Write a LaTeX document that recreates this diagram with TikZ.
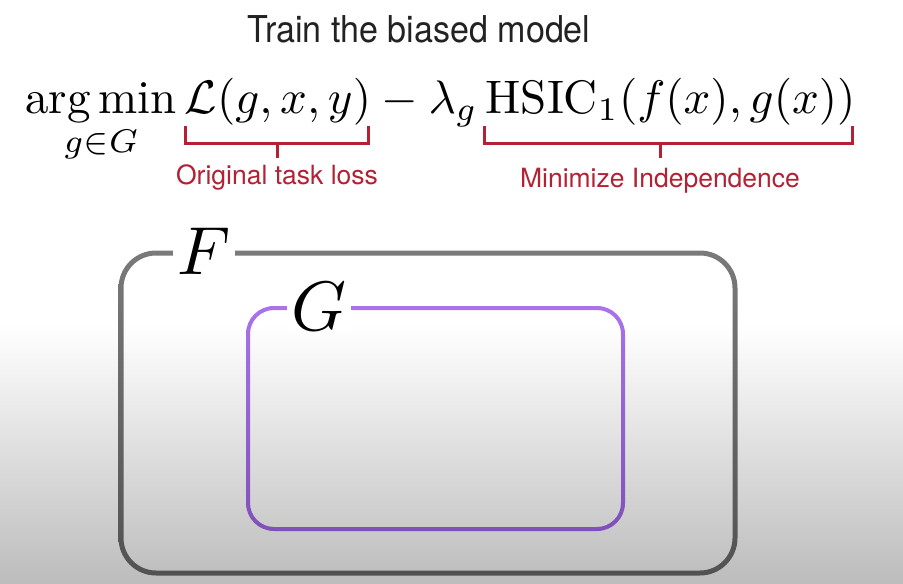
\documentclass[tikz,border=0pt]{standalone}
\usepackage{amsmath}
\usepackage{graphicx}
\usepackage{fontspec}
\newfontfamily\helv{TeX Gyre Heros}
\definecolor{bracketred}{RGB}{178,34,52}
\definecolor{titlegray}{RGB}{34,34,34}
\definecolor{ftop}{RGB}{122,122,122}
\definecolor{fbot}{RGB}{82,82,82}
\definecolor{gtop}{RGB}{170,115,235}
\definecolor{gbot}{RGB}{128,80,185}
\definecolor{bgbot}{RGB}{188,188,188}
\tikzset{
  title/.style={font=\helv\fontsize{37}{40}\selectfont, text=titlegray, anchor=base, inner sep=0pt, xscale=0.92, transform shape},
  redlabel/.style={font=\helv\fontsize{26.5}{28}\selectfont, text=bracketred, anchor=base, inner sep=0pt},
  bracketline/.style={draw=bracketred, line width=3pt},
  setlabel/.style={fill=white, inner ysep=0pt, inner xsep=4pt, anchor=center}
}
\begin{document}
\begin{tikzpicture}[x=1pt,y=-1pt]
\useasboundingbox (0,0) rectangle (903,584);
\fill[white] (0,0) rectangle (903,584);
\shade[top color=white, bottom color=bgbot] (0,325) rectangle (903,584);

% title
\node[title] (title) at (419,42) {Train the biased model};

% formula
\node[anchor=base west, inner sep=0pt] (formula) at (25,113)
  {\scalebox{4.7}{$\displaystyle \operatorname*{arg\,min}_{g\in G}\mathcal{L}(g,x,y)-\lambda_g\,\mathrm{HSIC}_1(f(x),g(x))$}};

% brackets
\draw[bracketline] (185,126) -- (185,143) -- (368,143) -- (368,126);
\draw[bracketline] (277,143) -- (277,158);
\draw[bracketline] (484,126) -- (484,143) -- (852,143) -- (852,126);
\draw[bracketline] (660,143) -- (660,158);
\node[redlabel] (loss) at (277,184) {Original task loss};
\node[redlabel] (indep) at (660,187) {Minimize Independence};

% F box (stroke as shaded ring)
\path[top color=ftop, bottom color=fbot, even odd rule]
  [rounded corners=37.5pt] (118.5,250.5) rectangle (737.5,575.5)
  [rounded corners=32.5pt] (123.5,255.5) rectangle (732.5,570.5);
% G box
\path[top color=gtop, bottom color=gbot, even odd rule]
  [rounded corners=28pt] (246,306) rectangle (625,531)
  [rounded corners=24pt] (250,310) rectangle (621,527);

\node[setlabel] (F) at (204,251) {\scalebox{6.8}{$F$}};
\node[setlabel] (G) at (319,307) {\scalebox{7}{$G$}};
\end{tikzpicture}
\end{document}
